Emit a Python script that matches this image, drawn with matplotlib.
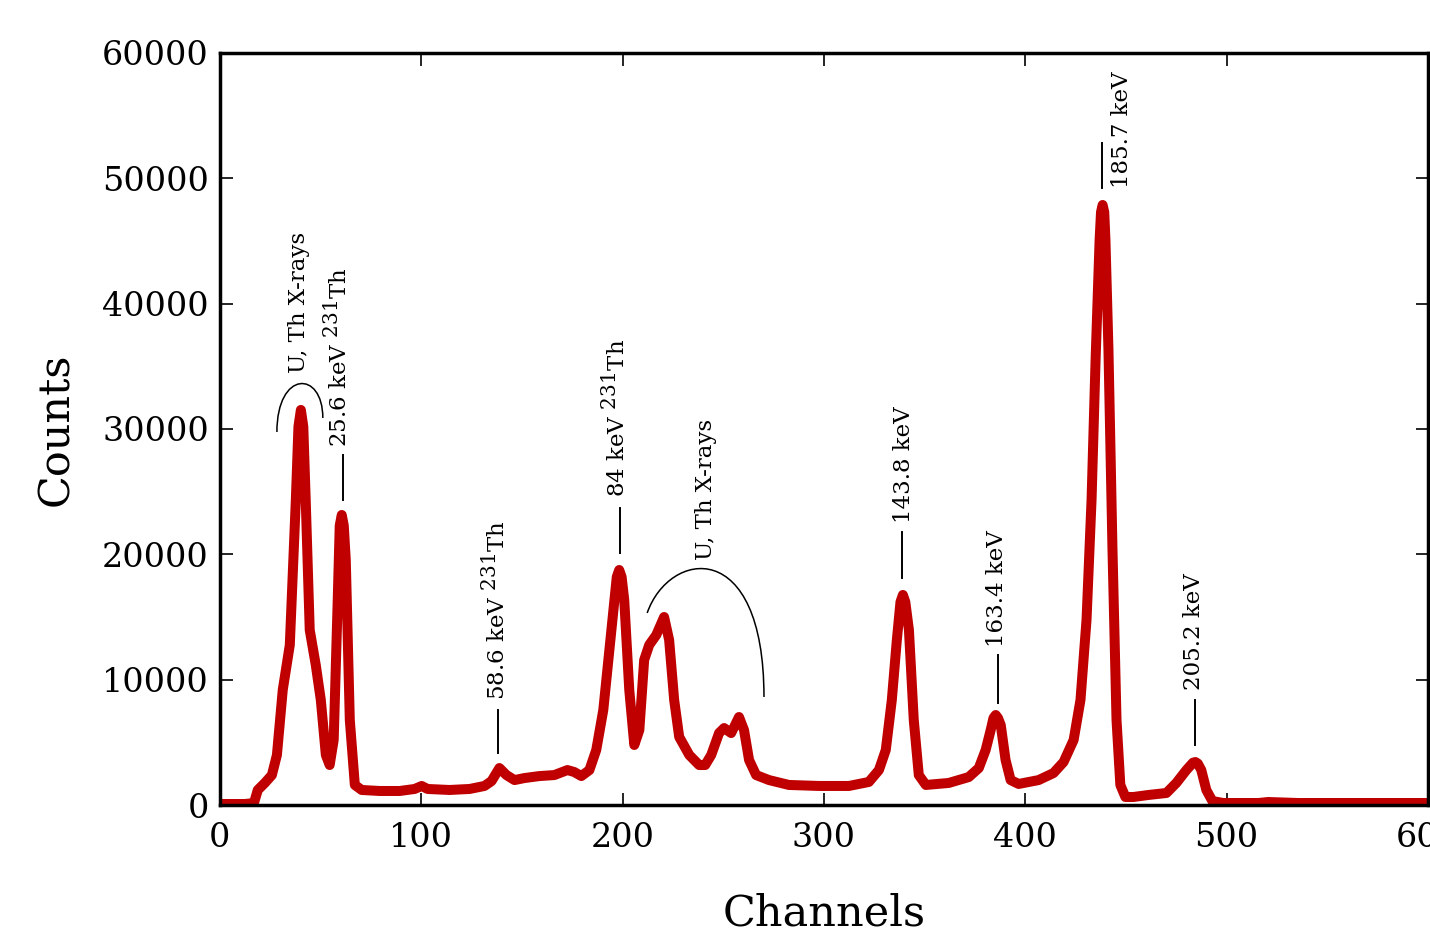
import numpy as np
import matplotlib
matplotlib.use('Agg')
import matplotlib.pyplot as plt
import matplotlib._mathtext as mathtext_internal
from matplotlib.path import Path
from matplotlib.patches import PathPatch

plt.rcParams['font.family'] = ['DejaVu Serif']
plt.rcParams['mathtext.fontset'] = 'dejavuserif'
# the reference uses nearly full-size superscripts
mathtext_internal.SHRINK_FACTOR = 0.88

# spectrum
channels = [0, 12.4, 16.9, 18.8, 22.3, 25.8, 28.3, 31.2, 34.7, 37.7, 39.0, 40.2, 41.4, 42.6,
            44.6, 47.6, 50.1, 52.6, 54.5, 56.5, 58.5, 59.5, 60.5, 61.5, 62.5, 64.5, 67.0,
            70.4, 79.3, 89.3, 96.7, 100.2, 103.1, 114.0, 124.0, 131.4, 134.9, 138.8, 142.3,
            146.3, 151.2, 158.7, 166.1, 172.6, 176.0, 179.5, 183.5, 186.9, 190.4, 193.4,
            195.9, 197.1, 198.3, 199.5, 200.8, 203.3, 205.8, 208.3, 210.7, 213.2, 216.7,
            220.6, 223.1, 225.6, 228.1, 233.1, 238.0, 241.0, 244.0, 247.9, 250.4, 253.9,
            257.8, 260.3, 262.8, 266.3, 272.7, 282.6, 297.5, 312.4, 322.3, 327.3, 330.7,
            333.7, 336.2, 338.0, 339.2, 340.4, 342.2, 344.6, 347.1, 350.6, 362.0, 371.9,
            376.9, 380.3, 382.8, 384.2, 385.3, 386.4, 387.8, 390.2, 392.7, 396.7, 406.6,
            414.0, 419.0, 424.0, 427.4, 430.4, 432.9, 434.9, 436.9, 437.6, 438.4, 439.2,
            439.8, 441.3, 443.3, 445.3, 447.2, 449.7, 453.7, 461.1, 470.1, 475.0, 480.0,
            483.3, 484.5, 485.7, 487.4, 489.9, 492.9, 498.3, 515.7, 520.6, 535.5, 585.1, 600]
counts = [80, 80, 160, 1200, 1760, 2390, 3990, 9180, 12770, 24340, 30200, 31520, 30200, 24340,
          13960, 11170, 8380, 3990, 3190, 5190, 16360, 22300, 23140, 22300, 19550, 6780, 1600,
          1200, 1120, 1120, 1280, 1520, 1280, 1200, 1280, 1520, 1910, 2950, 2390,
          1990, 2150, 2310, 2390, 2790, 2630, 2310, 2790, 4390, 7580, 12370,
          16360, 18200, 18750, 18200, 16360, 9180, 4790, 5980, 11570, 12770, 13560,
          15000, 13170, 8380, 5430, 3990, 3190, 3190, 3990, 5740, 6140, 5740,
          7020, 5980, 3590, 2390, 1990, 1600, 1520, 1520, 1840, 2790, 4390,
          8380, 13170, 16200, 16760, 16200, 13960, 6780, 2390, 1600, 1760, 2230,
          2950, 4390, 5980, 6950, 7180, 6950, 6380, 3590, 1990, 1680, 1990,
          2550, 3430, 5190, 8380, 14760, 24340, 35510, 45080, 47300, 47870, 47300,
          45080, 36300, 20350, 6780, 1600, 640, 640, 800, 960, 1760, 2790,
          3380, 3430, 3300, 2790, 1200, 320, 160, 160, 240, 160, 160, 160]

# peak labels: text, text x, text bottom, marker x, marker y0, marker y1
labels = ['25.6 keV $^{231}$Th', '58.6 keV $^{231}$Th', '84 keV $^{231}$Th',
          '143.8 keV', '163.4 keV', '185.7 keV', '205.2 keV']
label_x = [59.0, 137.4, 196.9, 339.7, 385.8, 447.8, 484.0]
label_y = [28560, 8380, 24580, 22500, 12610, 49230, 9180]
mark_x = [61.0, 138.3, 198.8, 338.7, 386.3, 438.3, 484.5]
mark_y0 = [24300, 4150, 20110, 18110, 8140, 49230, 4790]
mark_y1 = [27900, 7580, 23700, 21780, 11970, 52820, 8380]

# X-ray groups with curved brackets (bezier control points)
xray_x = [39.2, 241.5]
xray_y = [34470, 19550]
brackets = [
    [(28.3, 29760), (28.3, 34710), (51.1, 34710), (51.1, 30880)],
    [(212.2, 15320), (223.1, 20350), (270.2, 21540), (270.2, 8620)],
]

fig = plt.figure(figsize=(14.3, 9.34), dpi=100)
ax = fig.add_axes([0.1538, 0.1381, 0.8448, 0.8052])

ax.plot(channels, counts, color='#c00000', lw=7.2, solid_joinstyle='round',
        solid_capstyle='round')

for t, tx, ty, mx, y0, y1 in zip(labels, label_x, label_y, mark_x, mark_y0, mark_y1):
    ax.plot([mx, mx], [y0, y1], color='black', lw=1.4)
    ax.text(tx, ty, t, rotation=90, ha='center', va='bottom', fontsize=16.5)

for tx, ty in zip(xray_x, xray_y):
    ax.text(tx, ty, 'U, Th X-rays', rotation=90, ha='center', va='bottom', fontsize=16.5)

for b in brackets:
    p = Path(b, [Path.MOVETO, Path.CURVE4, Path.CURVE4, Path.CURVE4])
    ax.add_patch(PathPatch(p, fc='none', ec='black', lw=1.1))

ax.set_xlim(0, 600)
ax.set_ylim(0, 60000)
ax.set_xticks([0, 100, 200, 300, 400, 500, 600])
ax.set_yticks([0, 10000, 20000, 30000, 40000, 50000, 60000])
ax.tick_params(direction='in', top=True, right=True, length=9, width=1.2,
               labelsize=24, pad=8)
ax.tick_params(axis='x', pad=12)
for s in ax.spines.values():
    s.set_linewidth(2.5)

ax.set_xlabel('Channels', fontsize=31, labelpad=28)
ax.set_ylabel('Counts', fontsize=31, labelpad=18)

fig.savefig('out.png', dpi=100)
